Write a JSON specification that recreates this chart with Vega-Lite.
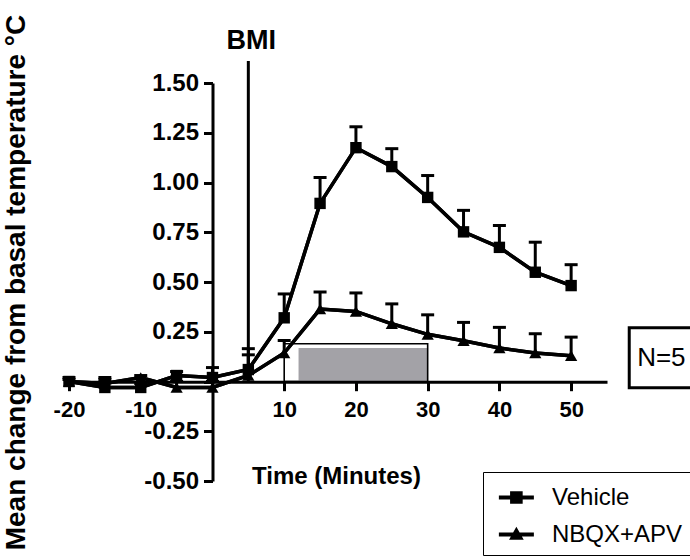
{
  "$schema": "https://vega.github.io/schema/vega-lite/v6.json",
  "width": 538,
  "height": 398,
  "autosize": {"type": "none"},
  "padding": {"left": 69, "top": 83, "right": 83, "bottom": 79},
  "background": "white",
  "config": {
    "view": {"stroke": null},
    "font": "Liberation Sans",
    "axis": {
      "grid": false,
      "domainColor": "black",
      "domainWidth": 3,
      "tickColor": "black",
      "tickWidth": 3,
      "tickSize": 9,
      "labelColor": "black",
      "labelFont": "Liberation Sans",
      "labelFontWeight": "bold",
      "labelFontSize": 23,
      "labelOverlap": false,
      "labelBound": false,
      "labelFlush": false,
      "titleColor": "black",
      "titleFont": "Liberation Sans",
      "titleFontWeight": "bold"
    }
  },
  "datasets": {
    "series": [
      {"time": -20, "group": "Vehicle", "mean": 0.0, "upper": 0.02},
      {"time": -15, "group": "Vehicle", "mean": -0.03, "upper": 0.02},
      {"time": -10, "group": "Vehicle", "mean": -0.03, "upper": -0.01},
      {"time": -5, "group": "Vehicle", "mean": 0.03, "upper": 0.05},
      {"time": 0, "group": "Vehicle", "mean": 0.02, "upper": 0.07},
      {"time": 5, "group": "Vehicle", "mean": 0.06, "upper": 0.165},
      {"time": 10, "group": "Vehicle", "mean": 0.32, "upper": 0.44},
      {"time": 15, "group": "Vehicle", "mean": 0.895, "upper": 1.025},
      {"time": 20, "group": "Vehicle", "mean": 1.175, "upper": 1.28},
      {"time": 25, "group": "Vehicle", "mean": 1.08, "upper": 1.17},
      {"time": 30, "group": "Vehicle", "mean": 0.925, "upper": 1.035},
      {"time": 35, "group": "Vehicle", "mean": 0.752, "upper": 0.86},
      {"time": 40, "group": "Vehicle", "mean": 0.674, "upper": 0.784},
      {"time": 45, "group": "Vehicle", "mean": 0.549, "upper": 0.7},
      {"time": 50, "group": "Vehicle", "mean": 0.482, "upper": 0.587},
      {"time": -20, "group": "NBQX+APV", "mean": 0.0, "upper": 0.01},
      {"time": -15, "group": "NBQX+APV", "mean": -0.01, "upper": 0.01},
      {"time": -10, "group": "NBQX+APV", "mean": 0.02, "upper": 0.03},
      {"time": -5, "group": "NBQX+APV", "mean": -0.03, "upper": 0.0},
      {"time": 0, "group": "NBQX+APV", "mean": -0.03, "upper": 0.0},
      {"time": 5, "group": "NBQX+APV", "mean": 0.03, "upper": 0.134},
      {"time": 10, "group": "NBQX+APV", "mean": 0.143, "upper": 0.206},
      {"time": 15, "group": "NBQX+APV", "mean": 0.364, "upper": 0.45},
      {"time": 20, "group": "NBQX+APV", "mean": 0.352, "upper": 0.445},
      {"time": 25, "group": "NBQX+APV", "mean": 0.29, "upper": 0.39},
      {"time": 30, "group": "NBQX+APV", "mean": 0.237, "upper": 0.335},
      {"time": 35, "group": "NBQX+APV", "mean": 0.205, "upper": 0.297},
      {"time": 40, "group": "NBQX+APV", "mean": 0.168, "upper": 0.272},
      {"time": 45, "group": "NBQX+APV", "mean": 0.143, "upper": 0.24},
      {"time": 50, "group": "NBQX+APV", "mean": 0.13, "upper": 0.223}
    ]
  },
  "layer": [
    {
      "data": {"name": "series"},
      "mark": {"type": "line", "stroke": "black", "strokeWidth": 3.5},
      "encoding": {
        "x": {"field": "time", "type": "quantitative", "scale": {"domain": [-20, 55], "nice": false, "zero": false},
          "axis": {"values": [-20, -15, -10, -5, 0, 5, 10, 15, 20, 25, 30, 35, 40, 45, 50, 55],
            "labelExpr": "datum.value == 0 ? '' : replace(datum.label, '−', '-')", "offset": -99.3, "labelPadding": 9,
            "labelOverlap": false, "labelFontSize": 22,
            "title": "Time (Minutes)", "titleFontSize": 24, "titleX": 267, "titleY": 95,
            "titleAlign": "center", "titleBaseline": "middle"}},
        "y": {"field": "mean", "type": "quantitative", "scale": {"domain": [-0.5, 1.5], "nice": false, "zero": false},
          "axis": {"values": [-0.5, -0.25, 0, 0.25, 0.5, 0.75, 1, 1.25, 1.5], "format": ".2f",
            "labelExpr": "datum.value == 0 ? '' : replace(datum.label, '−', '-')", "offset": -143.5, "labelPadding": 5,
            "labelOverlap": false, "labelFontSize": 24,
            "title": "Mean change from basal temperature °C", "titleFontSize": 28,
            "titleX": -196, "titleY": 199, "titleAngle": 270, "titleAlign": "center", "titleBaseline": "middle"}},
        "detail": {"field": "group"}
      }
    },
    {
      "data": {"values": [{}]},
      "mark": {"type": "rect", "fill": "#a3a2a7"},
      "encoding": {
        "x": {"datum": 12, "type": "quantitative"},
        "x2": {"datum": 30},
        "y": {"datum": 0, "type": "quantitative"},
        "y2": {"datum": 0.168}
      }
    },
    {
      "data": {"values": [{}]},
      "mark": {"type": "rect", "fillOpacity": 0, "stroke": "black", "strokeWidth": 1.6},
      "encoding": {
        "x": {"datum": 10, "type": "quantitative"},
        "x2": {"datum": 30},
        "y": {"datum": 0, "type": "quantitative"},
        "y2": {"datum": 0.19}
      }
    },
    {
      "data": {"values": [{}]},
      "mark": {"type": "rule", "stroke": "black", "strokeWidth": 3},
      "encoding": {
        "x": {"datum": 5, "type": "quantitative"},
        "y": {"datum": 0, "type": "quantitative"},
        "y2": {"datum": 1.61}
      }
    },
    {
      "data": {"values": [{}]},
      "mark": {"type": "text", "text": "BMI", "font": "Liberation Sans", "fontWeight": "bold", "fontSize": 27, "align": "center", "baseline": "middle", "dx": 3, "color": "black"},
      "encoding": {
        "x": {"datum": 5, "type": "quantitative"},
        "y": {"datum": 1.71, "type": "quantitative"}
      }
    },
    {
      "data": {"name": "series"},
      "mark": {"type": "rule", "stroke": "black", "strokeWidth": 3},
      "encoding": {
        "x": {"field": "time", "type": "quantitative"},
        "y": {"field": "mean", "type": "quantitative"},
        "y2": {"field": "upper"}
      }
    },
    {
      "data": {"name": "series"},
      "mark": {"type": "tick", "orient": "horizontal", "size": 13, "thickness": 3, "color": "black", "opacity": 1},
      "encoding": {
        "x": {"field": "time", "type": "quantitative"},
        "y": {"field": "upper", "type": "quantitative"}
      }
    },
    {
      "data": {"name": "series"},
      "mark": {"type": "line", "stroke": "black", "strokeWidth": 3.5},
      "encoding": {
        "x": {"field": "time", "type": "quantitative"},
        "y": {"field": "mean", "type": "quantitative"},
        "detail": {"field": "group"}
      }
    },
    {
      "data": {"name": "series"},
      "transform": [{"filter": "datum.group === 'Vehicle'"}],
      "mark": {"type": "point", "shape": "square", "filled": true, "color": "black", "opacity": 1, "size": 130},
      "encoding": {
        "x": {"field": "time", "type": "quantitative"},
        "y": {"field": "mean", "type": "quantitative"}
      }
    },
    {
      "data": {"name": "series"},
      "transform": [{"filter": "datum.group === 'NBQX+APV'"}],
      "mark": {"type": "point", "shape": "triangle-up", "filled": true, "color": "black", "opacity": 1, "size": 150},
      "encoding": {
        "x": {"field": "time", "type": "quantitative"},
        "y": {"field": "mean", "type": "quantitative"}
      }
    },
    {
      "data": {"name": "series"},
      "mark": {"type": "point", "filled": true, "color": "black", "opacity": 1, "size": 0},
      "encoding": {
        "x": {"field": "time", "type": "quantitative"},
        "y": {"field": "mean", "type": "quantitative"},
        "shape": {"field": "group", "type": "nominal",
          "scale": {"domain": ["Vehicle", "NBQX+APV"],
            "range": ["M-0.55,-0.12L1.45,-0.12L1.45,0.12L-0.55,0.12ZM0.09,-0.36L0.81,-0.36L0.81,0.36L0.09,0.36Z",
                      "M-0.55,-0.12L1.45,-0.12L1.45,0.12L-0.55,0.12ZM0.45,-0.44L0.87,0.3L0.03,0.3Z"]},
          "legend": {"title": null, "orient": "none", "legendX": 414, "legendY": 389,
            "strokeColor": "black", "fillColor": "white", "padding": 8,
            "symbolSize": 1225, "symbolFillColor": "black", "symbolStrokeColor": "black", "symbolStrokeWidth": 0, "symbolOpacity": 1,
            "labelFont": "Liberation Sans", "labelFontSize": 24, "labelColor": "black", "labelOffset": 26,
            "rowPadding": 7, "labelExpr": "datum.label + '    '",
            "encode": {"legend": {"update": {"strokeWidth": {"value": 3}}}}}
        }
      }
    },
    {
      "data": {"values": [{}]},
      "mark": {"type": "rect", "fill": "white", "stroke": "black", "strokeWidth": 3},
      "encoding": {
        "x": {"datum": 58.1, "type": "quantitative"},
        "x2": {"datum": 70},
        "y": {"datum": 0.27, "type": "quantitative"},
        "y2": {"datum": -0.032}
      }
    },
    {
      "data": {"values": [{}]},
      "mark": {"type": "text", "text": "N=5", "font": "Liberation Sans", "fontSize": 26, "align": "left", "baseline": "middle", "color": "black"},
      "encoding": {
        "x": {"datum": 59.2, "type": "quantitative"},
        "y": {"datum": 0.119, "type": "quantitative"}
      }
    }
  ]
}
